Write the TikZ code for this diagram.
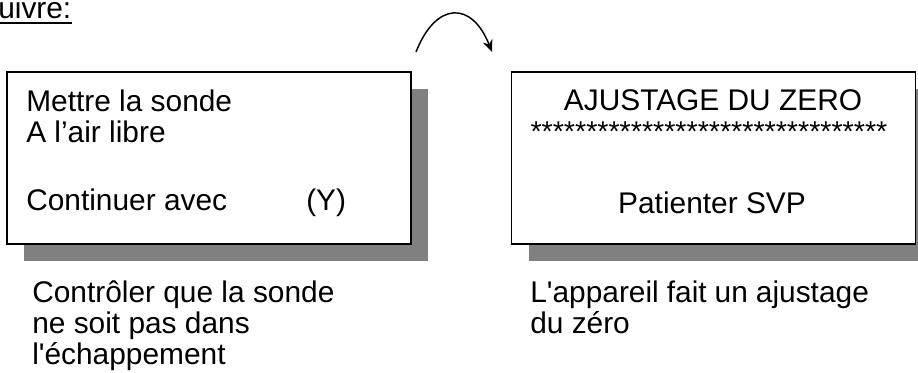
\documentclass[tikz,border=0pt]{standalone}
\usepackage{fontspec}
\setmainfont{Liberation Sans}
\usepackage{tikz}
\usepackage{xcolor}
\usetikzlibrary{arrows.meta, shadows}
\definecolor{ShadowGray}{HTML}{808080}
\tikzset{
    % Screen boxes with a hard grey drop shadow
    screen/.style={
        rectangle,
        draw=black,
        fill=white,
        line width=1.1pt,
        minimum width=303pt,
        minimum height=129pt,
        inner sep=0pt,
        drop shadow={shadow xshift=12.75pt, shadow yshift=-12.75pt, fill=ShadowGray, opacity=1}
    },
    line text/.style={
        anchor=base west,
        inner sep=0pt,
        font=\fontsize{22.4}{24}\selectfont
    },
    centre text/.style={
        line text,
        anchor=base
    },
    arrow style/.style={
        -{Stealth[length=9pt, width=7.5pt]},
        line width=1.1pt,
        black
    }
}

\begin{document}
\begin{tikzpicture}[x=0.75pt, y=-0.75pt]
        \clip (0,0) rectangle (918,372);

        % Heading (cut off at the left)
        \node[line text] (heading) at (-2,18) {uivre:};
        \draw[line width=1.5pt] ([yshift=-3.5pt]heading.base west) -- ([yshift=-3.5pt]heading.base east);

        % First screen
        \node[screen] (probe) at (209,158) {};
        \node[line text] (probe1) at (26,111) {Mettre la sonde};
        \node[line text] (probe2) at (26,142) {A l’air libre};
        \node[line text] (probe3) at (26,210) {Continuer avec};
        \node[line text] (probekey) at (306,210) {(Y)};

        % Second screen
        \node[screen] (zero) at (713.5,158) {};
        \node[centre text] (zero1) at (713,110) {AJUSTAGE DU ZERO};
        \node[centre text, font=\fontsize{21.5}{24}\selectfont] (zero2) at (709,141) {********************************};
        \node[centre text] (zero3) at (712,213) {Patienter SVP};

        % Arrow between the screens
        \coordinate (hopstart) at (416,52);
        \coordinate (hopend) at (492,52);
        \draw[arrow style] (hopstart) .. controls (436,1) and (472,1) .. (hopend);

        % Notes under the screens
        \node[line text] (note1) at (32,302) {Contrôler que la sonde};
        \node[line text] (note2) at (32,333) {ne soit pas dans};
        \node[line text] (note3) at (32,364) {l\textquotesingle échappement};
        \node[line text] (note4) at (530,302) {\makebox[254pt][s]{L\textquotesingle appareil fait un ajustage}};
        \node[line text] (note5) at (530,333) {du zéro};
    \end{tikzpicture}
\end{document}
